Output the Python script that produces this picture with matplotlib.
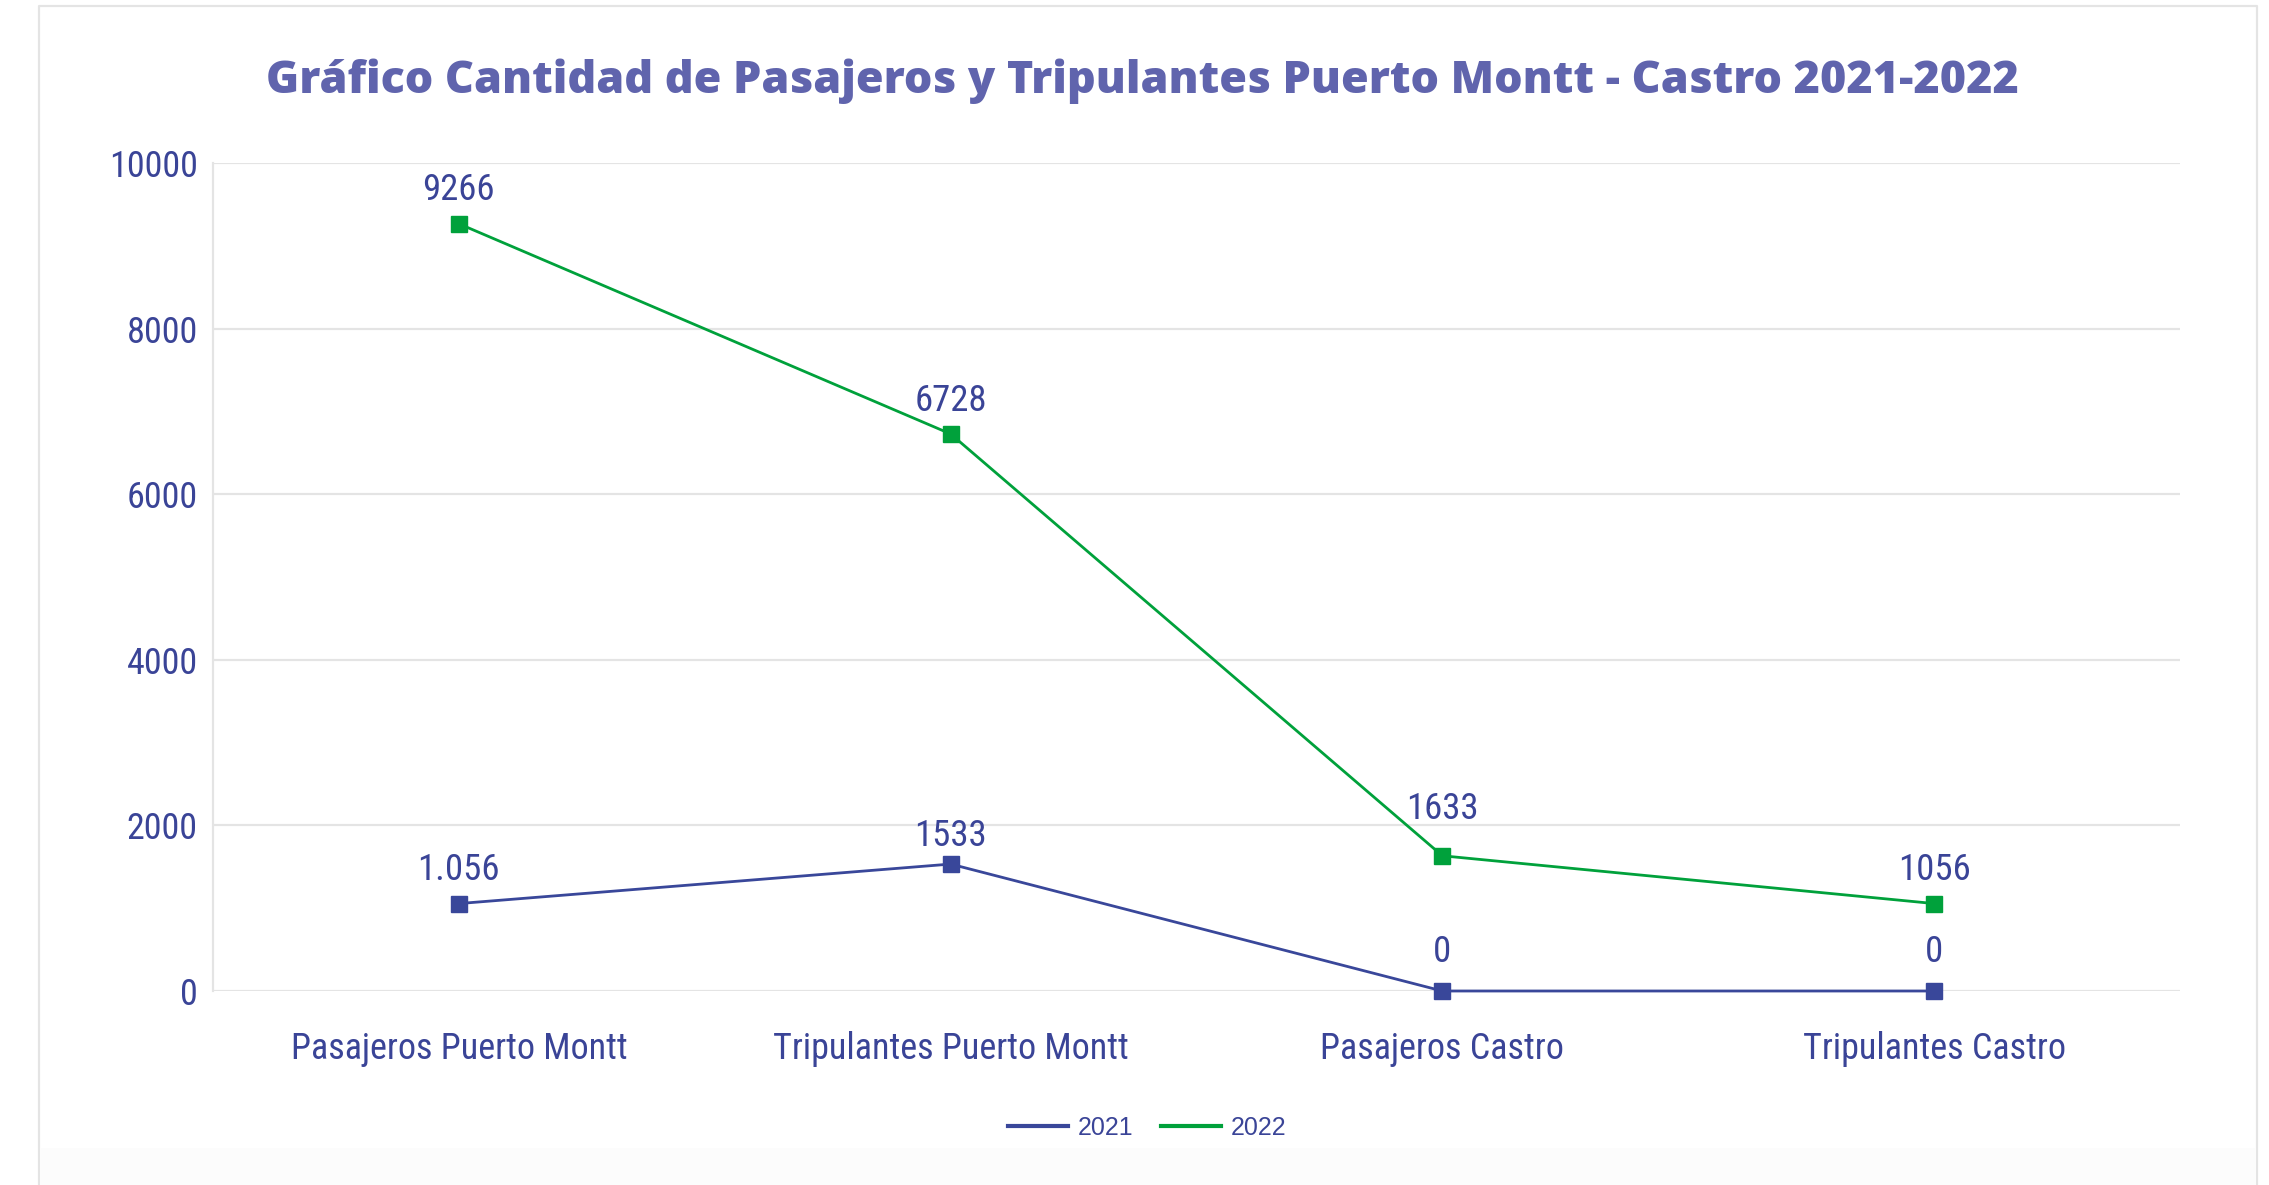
import matplotlib
matplotlib.use("Agg")
import matplotlib.pyplot as plt
from matplotlib.lines import Line2D
from matplotlib.patches import Rectangle

# data
categories = ["Pasajeros Puerto Montt", "Tripulantes Puerto Montt",
              "Pasajeros Castro", "Tripulantes Castro"]
values_2021 = [1056, 1533, 0, 0]
values_2022 = [9266, 6728, 1633, 1056]
labels_2021 = ["1.056", "1533", "0", "0"]
labels_2022 = ["9266", "6728", "1633", "1056"]
series_names = ["2021", "2022"]
y_ticks = [0, 2000, 4000, 6000, 8000, 10000]

BLUE = "#39479a"
GREEN = "#00a13b"
TEXT = "#3a4497"
TITLE = "#6064ad"
GRID = "#e4e4e4"

narrow = ["Roboto Condensed", "Liberation Sans Narrow", "DejaVu Sans"]

fig = plt.figure(figsize=(22.69, 11.85), dpi=100)
fig.patch.set_facecolor("white")

# outer frame of the card
W, H = 2269.0, 1185.0
fig.add_artist(Rectangle((41 / W, 0), (2255 - 41) / W, 37 / H, transform=fig.transFigure,
                         facecolor="#fcfcfc", edgecolor="none", zorder=0))
fig.add_artist(Line2D([39 / W, 39 / W, 2257 / W, 2257 / W],
                      [0, 1 - 6 / H, 1 - 6 / H, 0],
                      transform=fig.transFigure, color="#e4e4e4", lw=1.6))

ax = fig.add_axes([213 / W, 194 / H, (2180 - 213) / W, (991 - 163) / H])
ax.set_facecolor("none")

x = [i + 0.5 for i in range(len(categories))]
ax.plot(x, values_2021, color=BLUE, lw=2, marker="s", markersize=11.5,
        label=series_names[0], zorder=3, clip_on=False)
ax.plot(x, values_2022, color=GREEN, lw=2, marker="s", markersize=11.5,
        label=series_names[1], zorder=3, clip_on=False)

# data labels (offsets in points above the marker)
off_2021 = [24, 20, 28, 28]
off_2022 = [24, 24, 34, 24]
for xi, v, t, o in zip(x, values_2021, labels_2021, off_2021):
    ax.annotate(t, (xi, v), xytext=(0, o), textcoords="offset points",
                ha="center", va="center", fontsize=26.5, color=TEXT, family=narrow)
for xi, v, t, o in zip(x, values_2022, labels_2022, off_2022):
    ax.annotate(t, (xi, v), xytext=(0, o), textcoords="offset points",
                ha="center", va="center", fontsize=26.5, color=TEXT, family=narrow)

ax.set_xlim(0, len(categories))
ax.set_ylim(0, 10000)
ax.set_yticks(y_ticks)
ax.set_yticklabels([str(t) for t in y_ticks])
ax.set_xticks(x)
ax.set_xticklabels(categories)
for lab in ax.get_xticklabels() + ax.get_yticklabels():
    lab.set_family(narrow)
    lab.set_fontsize(26)
    lab.set_color(TEXT)
ax.tick_params(axis="both", length=0)
ax.tick_params(axis="y", pad=11)
ax.tick_params(axis="x", pad=29)

ax.grid(axis="y", color=GRID, lw=1.6)
ax.set_axisbelow(True)
for s in ["top", "right", "bottom"]:
    ax.spines[s].set_visible(False)
ax.spines["left"].set_color(GRID)
ax.spines["left"].set_linewidth(1.6)

fig.text(1142 / W, 1 - 93 / H,
         "Gráfico Cantidad de Pasajeros y Tripulantes Puerto Montt - Castro 2021-2022",
         ha="center", va="baseline", fontsize=32.3, fontweight="heavy", color=TITLE,
         family=["Open Sans", "Liberation Sans", "DejaVu Sans"])

handles = [Line2D([], [], color=BLUE, lw=3), Line2D([], [], color=GREEN, lw=3)]
leg = fig.legend(handles, series_names, loc="center", ncol=2,
                 bbox_to_anchor=(1147 / W, 1 - 1128 / H), frameon=False,
                 handlelength=2.4, handletextpad=0.4, columnspacing=1.1,
                 prop={"family": ["Liberation Sans", "DejaVu Sans"], "size": 18})
for t in leg.get_texts():
    t.set_color(TEXT)

fig.savefig("out.png", dpi=100, facecolor="white")
